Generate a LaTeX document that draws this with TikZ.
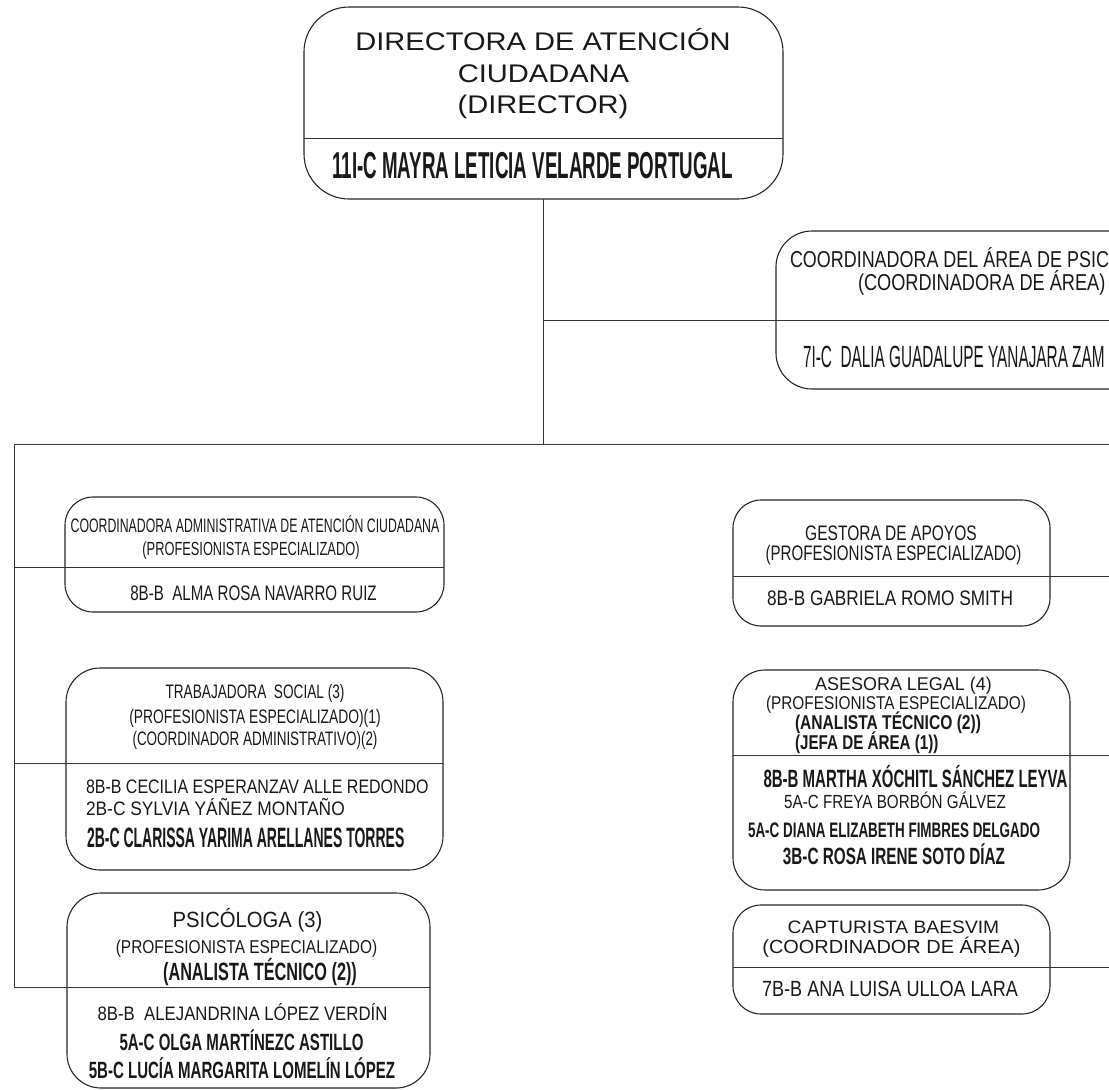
\documentclass[tikz,border=0pt]{standalone}
\usepackage{fontspec}
\setmainfont{Liberation Sans}
\usepackage{graphicx}
\tikzset{
  box/.style={draw=black!85, line width=1.1pt, rounded corners=28pt, inner sep=0pt, outer sep=0pt},
  conn/.style={draw=black!80, line width=1pt},
  txt/.style={inner sep=0pt, outer sep=0pt, text=black!90},
}
\newcommand\tx[7]{\node[txt,anchor=#1] (#2) at (#3,#4) {\fontsize{#5}{#5}\selectfont\scalebox{#6}[1]{#7}};}
\begin{document}
\begin{tikzpicture}[x=1pt,y=-1pt]
\useasboundingbox (0,0) rectangle (1109,1090);
\clip (0,0) rectangle (1109,1090);
% boxes
\node[box, rounded corners=45pt, minimum width=479pt, minimum height=192pt] (dir) at (543.5,103) {};
\node[box, rounded corners=36pt, minimum width=414pt, minimum height=158pt] (coord) at (983,310) {};
\node[box, minimum width=379pt, minimum height=115pt] (b1) at (254.5,554.5) {};
\node[box, rounded corners=34pt, minimum width=377pt, minimum height=202pt] (b2) at (254.5,769) {};
\node[box, rounded corners=34pt, minimum width=363pt, minimum height=195pt] (b3) at (248.5,990.5) {};
\node[box, minimum width=317pt, minimum height=126pt] (g) at (891.5,563) {};
\node[box, rounded corners=32pt, minimum width=337pt, minimum height=220pt] (a) at (901.5,780) {};
\node[box, minimum width=317pt, minimum height=109pt] (c) at (891.5,959.5) {};
% dividers
\coordinate (dirD) at (304,138);
\draw[conn] (dirD) -- (dirD -| dir.east);
% connectors
\coordinate (jc) at (543,320);
\coordinate (jm) at (543,444);
\coordinate (jl) at (14,444);
\coordinate (jr) at (1109,444);
\coordinate (l1) at (14,567);
\coordinate (l2) at (14,763);
\coordinate (l3) at (14,987);
\coordinate (r1) at (1109,576);
\coordinate (r2) at (1109,755);
\coordinate (r3) at (1109,967);
\draw[conn] (jc |- dir.south) -- (jm);
\draw[conn] (jc) -- (jc -| coord.east);
\draw[conn] (jl) -- (jr);
\draw[conn] (jl) -- (l3);
\draw[conn] (l1) -- (l1 -| b1.east);
\draw[conn] (l2) -- (l2 -| b2.east);
\draw[conn] (l3) -- (l3 -| b3.east);
\draw[conn] (r1 -| g.west) -- (r1);
\draw[conn] (r2 -| a.west) -- (r2);
\draw[conn] (r3 -| c.west) -- (r3);
% top box texts
\tx{base}{d1}{543}{50}{25.5}{1.14}{DIRECTORA DE ATENCIÓN}
\tx{base}{d2}{543.5}{82}{25.5}{1.14}{CIUDADANA}
\tx{base}{d3}{543}{113}{25.5}{1.14}{(DIRECTOR)}
\tx{base}{d4}{532.5}{178}{37.5}{0.5}{\bfseries 11I-C MAYRA LETICIA VELARDE PORTUGAL}
% coordinator box
\tx{base west}{c1}{790}{267}{23}{0.78}{COORDINADORA DEL ÁREA DE PSIC}
\tx{base west}{c2}{858}{290}{23}{0.79}{(COORDINADORA DE ÁREA)}
\tx{base west}{c3}{803}{367}{30.7}{0.5}{7I-C\ \ DALIA GUADALUPE YANAJARA ZAM}
% b1
\tx{base}{e1}{255}{532}{19.5}{0.63}{COORDINADORA ADMINISTRATIVA DE ATENCIÓN CIUDADANA}
\tx{base}{e2}{251}{555}{19}{0.675}{(PROFESIONISTA ESPECIALIZADO)}
\tx{base}{e3}{253.5}{600}{21}{0.72}{8B-B\ \ ALMA ROSA NAVARRO RUIZ}
% b2
\tx{base}{f1}{255}{698}{19.5}{0.70}{TRABAJADORA\ \ SOCIAL (3)}
\tx{base}{f2}{255}{723}{19.5}{0.71}{(PROFESIONISTA ESPECIALIZADO)(1)}
\tx{base}{f3}{255}{745}{19.5}{0.69}{(COORDINADOR ADMINISTRATIVO)(2)}
\tx{base west}{f4}{86}{793}{19.5}{0.82}{8B-B CECILIA ESPERANZAV ALLE REDONDO}
\tx{base west}{f5}{86}{815}{19.5}{0.89}{2B-C SYLVIA YÁÑEZ MONTAÑO}
\tx{base west}{f6}{87}{847}{28}{0.5}{\bfseries 2B-C CLARISSA YARIMA ARELLANES TORRES}
% b3
\tx{base}{h1}{247.5}{927}{22}{0.92}{PSICÓLOGA (3)}
\tx{base}{h2}{246.5}{953}{18.6}{0.83}{(PROFESIONISTA ESPECIALIZADO)}
\tx{base}{h3}{260}{980}{25}{0.65}{\bfseries (ANALISTA TÉCNICO (2))}
\tx{base}{h4}{242.5}{1020}{19.5}{0.86}{8B-B\ \ ALEJANDRINA LÓPEZ VERDÍN}
\tx{base}{h5}{241.5}{1050}{23.5}{0.64}{\bfseries 5A-C OLGA MARTÍNEZC ASTILLO}
\tx{base}{h6}{242}{1078}{23.5}{0.64}{\bfseries 5B-C LUCÍA MARGARITA LOMELÍN LÓPEZ}
% g
\tx{base}{g1}{891}{540}{21}{0.74}{GESTORA DE APOYOS}
\tx{base}{g2}{893.5}{560}{21}{0.72}{(PROFESIONISTA ESPECIALIZADO)}
\tx{base}{g3}{890}{605}{21}{0.82}{8B-B GABRIELA ROMO SMITH}
% a
\tx{base}{a1}{903.5}{690}{18.5}{0.97}{ASESORA LEGAL (4)}
\tx{base}{a2}{896}{709}{18.5}{0.83}{(PROFESIONISTA ESPECIALIZADO)}
\tx{base west}{a3}{795}{729}{20}{0.78}{\bfseries (ANALISTA TÉCNICO (2))}
\tx{base west}{a4}{795}{749}{20}{0.76}{\bfseries (JEFA DE ÁREA (1))}
\tx{base}{a5}{915.5}{787}{25}{0.6}{\bfseries 8B-B MARTHA XÓCHITL SÁNCHEZ LEYVA}
\tx{base}{a6}{895}{808}{19}{0.80}{5A-C FREYA BORBÓN GÁLVEZ}
\tx{base}{a7}{894}{837}{21}{0.64}{\bfseries 5A-C DIANA ELIZABETH FIMBRES DELGADO}
\tx{base}{a8}{894}{864}{23.5}{0.65}{\bfseries 3B-C ROSA IRENE SOTO DÍAZ}
% c
\tx{base}{k1}{893.5}{933}{18}{1.07}{CAPTURISTA BAESVIM}
\tx{base}{k2}{891.5}{953}{19}{1.05}{(COORDINADOR DE ÁREA)}
\tx{base}{k3}{890}{996}{22}{0.82}{7B-B ANA LUISA ULLOA LARA}
\end{tikzpicture}
\end{document}
